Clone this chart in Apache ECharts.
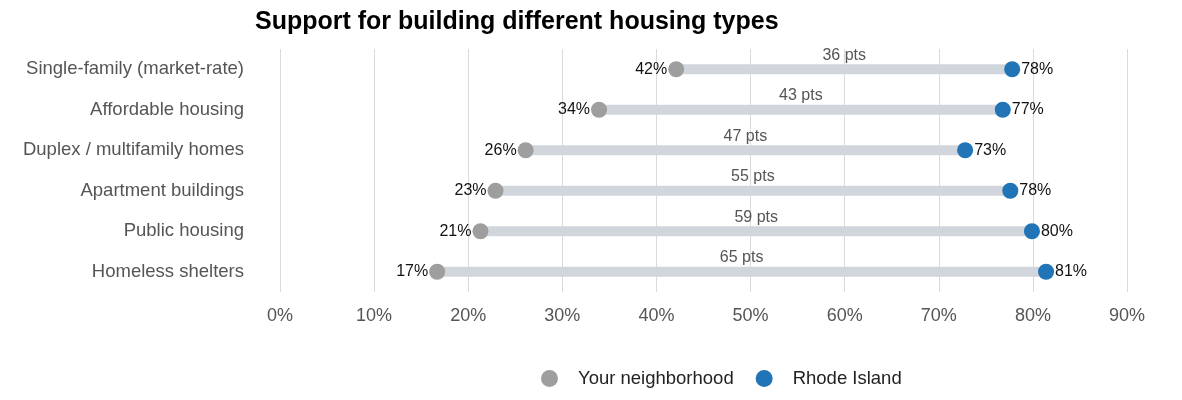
<!DOCTYPE html>
<html><head><meta charset="utf-8">
<script src="https://cdn.jsdelivr.net/npm/echarts@6/dist/echarts.min.js"></script>
<style>html,body{margin:0;padding:0;background:#fff}#c{width:1182px;height:400px}</style>
</head><body><div id="c"></div>
<script>
const categories = ["Single-family (market-rate)", "Affordable housing", "Duplex / multifamily homes", "Apartment buildings", "Public housing", "Homeless shelters"];
const neighborhood = [42.1, 33.9, 26.1, 22.9, 21.3, 16.7];
const rhodeIsland = [77.8, 76.8, 72.8, 77.6, 79.9, 81.4];
const xTicks = [0, 10, 20, 30, 40, 50, 60, 70, 80, 90];

const FONT = "Liberation Sans, Arial, sans-serif";
const gaps = rhodeIsland.map((v, i) => +(v - neighborhood[i]).toFixed(1));

const chart = echarts.init(document.getElementById('c'));
chart.setOption({
  animation: false,
  textStyle: { fontFamily: FONT },
  title: {
    text: "Support for building different housing types",
    left: 250, top: 5,
    textStyle: { fontFamily: FONT, fontSize: 25, fontWeight: 'bold', color: '#000' }
  },
  legend: {
    data: ["Your neighborhood", "Rhode Island"],
    left: 536, top: 364,
    icon: 'circle', itemWidth: 17, itemHeight: 17, itemGap: 22,
    textStyle: { fontFamily: FONT, fontSize: 18.5, color: '#222', padding: [0, 0, 0, 15] }
  },
  grid: { left: 280, right: 55, top: 49, bottom: 108 },
  xAxis: {
    type: 'value', min: xTicks[0], max: xTicks[xTicks.length - 1], interval: 10,
    axisLine: { show: false }, axisTick: { show: false },
    axisLabel: { formatter: '{value}%', fontSize: 18, color: '#555', margin: 15, fontFamily: FONT },
    splitLine: { lineStyle: { color: '#dadada', width: 1 } }
  },
  yAxis: {
    type: 'category', data: categories, inverse: true,
    axisLine: { show: false }, axisTick: { show: false },
    axisLabel: { fontSize: 18.5, color: '#555', margin: 36, fontFamily: FONT },
    splitLine: { show: false }
  },
  series: [
    {
      type: 'bar', stack: 'd', data: neighborhood, barWidth: 10,
      itemStyle: { color: 'transparent' }, silent: true, legendHoverLink: false
    },
    {
      type: 'bar', stack: 'd', data: gaps, barWidth: 10,
      itemStyle: { color: '#d1d5dc' }, silent: true,
      label: {
        show: true, position: 'top', distance: 1,
        formatter: p => Math.round(p.value) + ' pts',
        fontSize: 16, color: '#555', fontFamily: FONT
      }
    },
    {
      name: "Your neighborhood", type: 'scatter', data: neighborhood, symbolSize: 16, z: 5,
      itemStyle: { color: '#9e9e9e', opacity: 1 },
      label: { show: true, position: 'left', distance: 1, formatter: p => Math.round(p.value) + '%', fontSize: 16, color: '#111', fontFamily: FONT }
    },
    {
      name: "Rhode Island", type: 'scatter', data: rhodeIsland, symbolSize: 16, z: 5,
      itemStyle: { color: '#2174b5', opacity: 1 },
      label: { show: true, position: 'right', distance: 1, formatter: p => Math.round(p.value) + '%', fontSize: 16, color: '#111', fontFamily: FONT }
    }
  ]
});
</script></body></html>
